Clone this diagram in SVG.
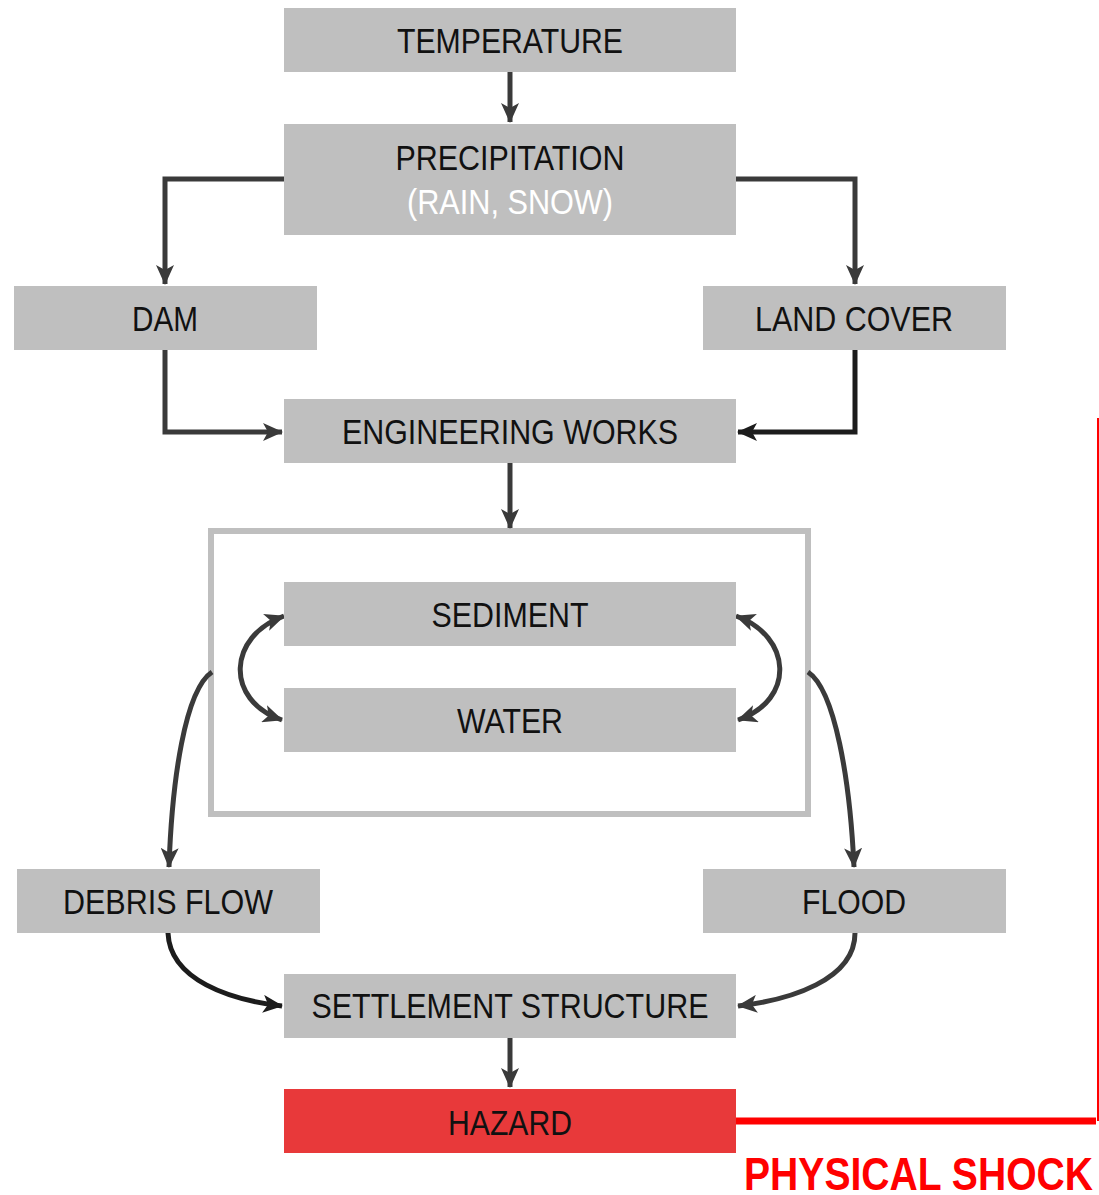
<svg xmlns="http://www.w3.org/2000/svg" width="1099" height="1195" viewBox="0 0 1099 1195">
  <style>
    .box { fill: #bfbfbf; }
    .hazard { fill: #e8393a; }
    .label { font-family: "Liberation Sans", Arial, sans-serif; font-size: 35px; fill: #111; text-anchor: middle; }
    .sub { fill: #ffffff; }
    .link { fill: none; stroke: #3a3a3a; stroke-width: 5; }
    .dark { stroke: #1c1c1c; }
    .shock { font-family: "Liberation Sans", Arial, sans-serif; font-size: 46px; font-weight: bold; fill: #ff0000; }
  </style>
  <defs>
    <marker id="arrow" viewBox="0 0 20 18" refX="19" refY="9" markerWidth="20" markerHeight="18" markerUnits="userSpaceOnUse" orient="auto-start-reverse">
      <path d="M0,0 L20,9 L0,18 L5,9 Z" fill="#3a3a3a"/>
    </marker>
    <marker id="arrowDark" viewBox="0 0 20 18" refX="19" refY="9" markerWidth="20" markerHeight="18" markerUnits="userSpaceOnUse" orient="auto-start-reverse">
      <path d="M0,0 L20,9 L0,18 L5,9 Z" fill="#1c1c1c"/>
    </marker>
  </defs>

  <!-- container around sediment / water -->
  <rect id="system" x="211" y="531" width="597" height="283" fill="none" stroke="#bfbfbf" stroke-width="6"/>

  <g id="connectors">
    <path class="link" d="M510,72 V122" marker-end="url(#arrow)"/>
    <path class="link" d="M284,179 H165 V284" marker-end="url(#arrow)"/>
    <path class="link" d="M736,179 H855 V284" marker-end="url(#arrow)"/>
    <path class="link" d="M165,350 V432 H282" marker-end="url(#arrow)"/>
    <path class="link dark" d="M855,350 V432 H738" marker-end="url(#arrowDark)"/>
    <path class="link" d="M510,463 V528" marker-end="url(#arrow)"/>
    <path class="link" d="M284,616 C228,636 224,700 282,720" marker-start="url(#arrow)" marker-end="url(#arrow)"/>
    <path class="link" d="M736,616 C792,636 796,700 738,720" marker-start="url(#arrow)" marker-end="url(#arrow)"/>
    <path class="link" d="M212,672 C185,690 172,780 169,867" marker-end="url(#arrow)"/>
    <path class="link" d="M808,672 C835,690 850,780 854,867" marker-end="url(#arrow)"/>
    <path class="link dark" d="M168,933 C170,980 230,1000 282,1006" marker-end="url(#arrowDark)"/>
    <path class="link" d="M855,933 C855,980 790,1000 738,1006" marker-end="url(#arrow)"/>
    <path class="link" d="M510,1038 V1087" marker-end="url(#arrow)"/>
    <!-- physical shock feedback line -->
    <path d="M736,1121 H1096" fill="none" stroke="#ff0000" stroke-width="7"/>
    <path d="M1098,418 V1121" fill="none" stroke="#ff0000" stroke-width="2"/>
  </g>

  <g id="temperature">
    <rect class="box" x="284" y="8" width="452" height="64"/>
    <text class="label" x="510" y="53" textLength="226" lengthAdjust="spacingAndGlyphs">TEMPERATURE</text>
  </g>
  <g id="precipitation">
    <rect class="box" x="284" y="124" width="452" height="111"/>
    <text class="label" x="510" y="170" textLength="229" lengthAdjust="spacingAndGlyphs">PRECIPITATION</text>
    <text class="label sub" x="510" y="214" textLength="206" lengthAdjust="spacingAndGlyphs">(RAIN, SNOW)</text>
  </g>
  <g id="dam">
    <rect class="box" x="14" y="286" width="303" height="64"/>
    <text class="label" x="165" y="331" textLength="66" lengthAdjust="spacingAndGlyphs">DAM</text>
  </g>
  <g id="land-cover">
    <rect class="box" x="703" y="286" width="303" height="64"/>
    <text class="label" x="854" y="331" textLength="198" lengthAdjust="spacingAndGlyphs">LAND COVER</text>
  </g>
  <g id="engineering-works">
    <rect class="box" x="284" y="399" width="452" height="64"/>
    <text class="label" x="510" y="444" textLength="336" lengthAdjust="spacingAndGlyphs">ENGINEERING WORKS</text>
  </g>
  <g id="sediment">
    <rect class="box" x="284" y="582" width="452" height="64"/>
    <text class="label" x="510" y="627" textLength="157" lengthAdjust="spacingAndGlyphs">SEDIMENT</text>
  </g>
  <g id="water">
    <rect class="box" x="284" y="688" width="452" height="64"/>
    <text class="label" x="510" y="733" textLength="106" lengthAdjust="spacingAndGlyphs">WATER</text>
  </g>
  <g id="debris-flow">
    <rect class="box" x="17" y="869" width="303" height="64"/>
    <text class="label" x="168" y="914" textLength="210" lengthAdjust="spacingAndGlyphs">DEBRIS FLOW</text>
  </g>
  <g id="flood">
    <rect class="box" x="703" y="869" width="303" height="64"/>
    <text class="label" x="854" y="914" textLength="104" lengthAdjust="spacingAndGlyphs">FLOOD</text>
  </g>
  <g id="settlement-structure">
    <rect class="box" x="284" y="974" width="452" height="64"/>
    <text class="label" x="510" y="1018" textLength="397" lengthAdjust="spacingAndGlyphs">SETTLEMENT STRUCTURE</text>
  </g>
  <g id="hazard">
    <rect class="hazard" x="284" y="1089" width="452" height="64"/>
    <text class="label" x="510" y="1135" textLength="124" lengthAdjust="spacingAndGlyphs">HAZARD</text>
  </g>
  <g id="physical-shock">
    <text class="shock" x="744" y="1190" textLength="349" lengthAdjust="spacingAndGlyphs">PHYSICAL SHOCK</text>
  </g>
</svg>
